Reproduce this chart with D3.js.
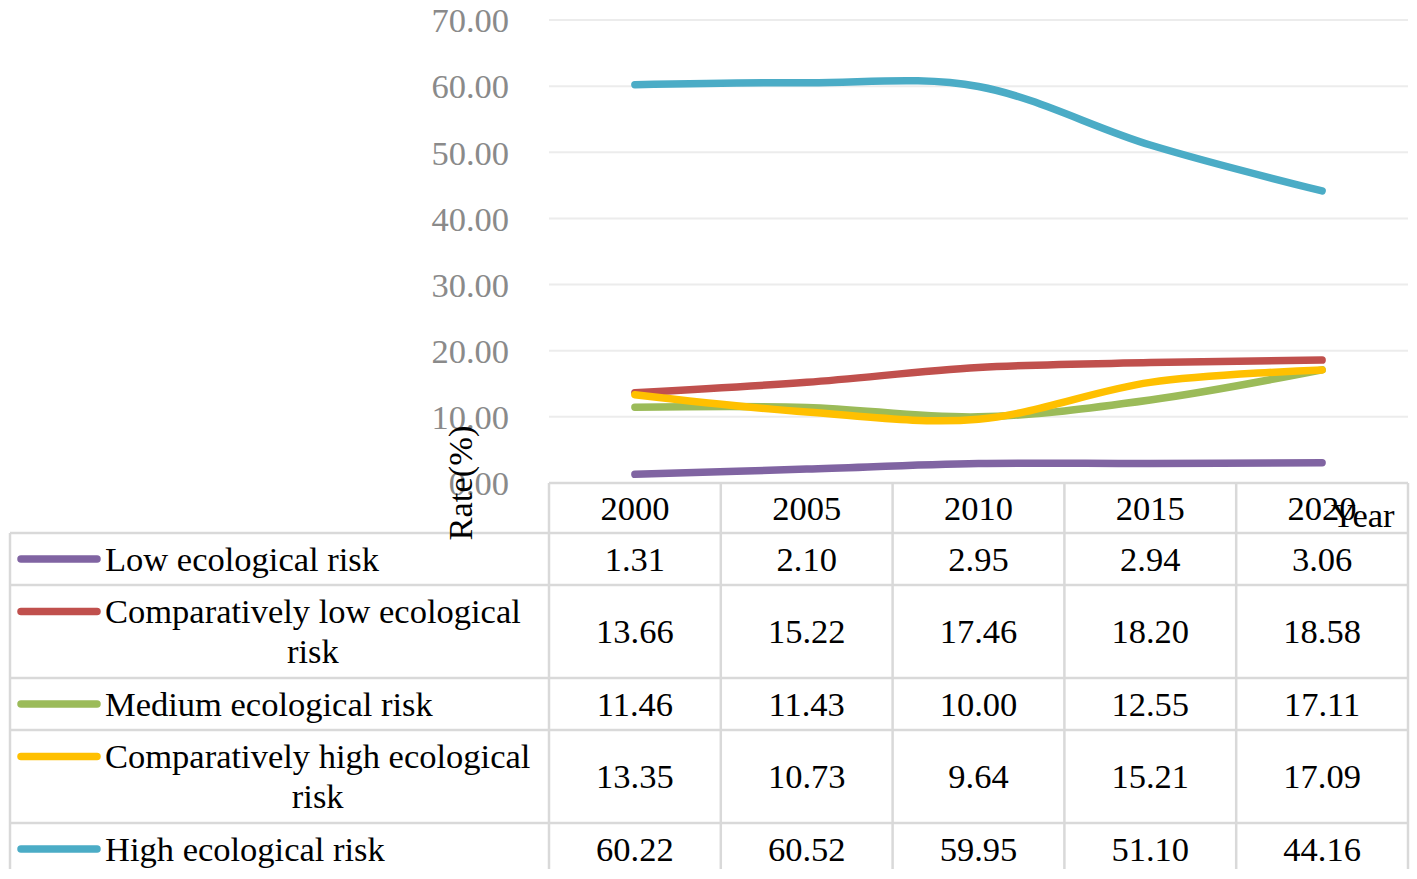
<!DOCTYPE html>
<html>
<head>
<meta charset="utf-8">
<script src="https://cdn.jsdelivr.net/npm/d3@7/dist/d3.min.js"></script>
<style>
  body { margin: 0; background: #fff; }
  text { font-family: "Liberation Serif", "Times New Roman", serif; }
</style>
</head>
<body>
<svg id="chart" width="1417" height="879"></svg>
<script>
// ---- data ----
const years = ["2000", "2005", "2010", "2015", "2020"];
const seriesNames = [
  "Low ecological risk",
  "Comparatively low ecological risk",
  "Medium ecological risk",
  "Comparatively high ecological risk",
  "High ecological risk"
];
const lowRisk = [1.31, 2.10, 2.95, 2.94, 3.06];
const compLowRisk = [13.66, 15.22, 17.46, 18.20, 18.58];
const mediumRisk = [11.46, 11.43, 10.00, 12.55, 17.11];
const compHighRisk = [13.35, 10.73, 9.64, 15.21, 17.09];
const highRisk = [60.22, 60.52, 59.95, 51.10, 44.16];
const seriesValues = [lowRisk, compLowRisk, mediumRisk, compHighRisk, highRisk];
const yTicks = [0, 10, 20, 30, 40, 50, 60, 70];
const colors = ["#8064A2", "#C0504D", "#9BBB59", "#FFC000", "#4BACC6"];

// ---- layout ----
const svg = d3.select("#chart");
const plotLeft = 549, plotRight = 1408, plotTop = 20, plotBottom = 483;
const tableLeft = 10, tableBottom = 869;
const headerBottom = 533;
const rowHeights = [52, 93, 52, 93, 52];
const fs = 34.5;
const base = 11.8;
const gridColor = "#ececec", borderColor = "#d9d9d9";

const x = d3.scaleBand().domain(years).range([plotLeft, plotRight]);
const xc = d => x(d) + x.bandwidth() / 2;
const y = d3.scaleLinear().domain([0, 70]).range([plotBottom, plotTop]);

// gridlines
svg.append("g").selectAll("line").data(yTicks.filter(t => t > 0)).join("line")
  .attr("x1", plotLeft).attr("x2", plotRight)
  .attr("y1", d => y(d)).attr("y2", d => y(d))
  .attr("stroke", gridColor).attr("stroke-width", 2);

// y axis labels
const yAxis = d3.axisLeft(y).tickValues(yTicks).tickFormat(d3.format(".2f")).tickSize(0).tickPadding(0);
const gy = svg.append("g").attr("transform", `translate(509,0)`).call(yAxis);
gy.select(".domain").remove();
gy.selectAll("text").attr("font-size", fs).attr("fill", "#8a8a8a")
  .attr("font-family", "Liberation Serif, Times New Roman, serif").attr("dy", "0.34em");

// lines
const line = d3.line().x((d, i) => xc(years[i])).y(d => y(d)).curve(d3.curveCardinal.tension(0));
svg.append("g").selectAll("path").data(seriesValues).join("path")
  .attr("d", d => line(d))
  .attr("fill", "none")
  .attr("stroke", (d, i) => colors[i])
  .attr("stroke-width", 7.5)
  .attr("stroke-linecap", "round")
  .attr("stroke-linejoin", "round");

// ---- table ----
const rowTops = [];
let acc = headerBottom;
rowHeights.forEach(h => { rowTops.push(acc); acc += h; });

const tg = svg.append("g");
tg.append("line").attr("x1", plotLeft).attr("x2", plotRight).attr("y1", plotBottom).attr("y2", plotBottom)
  .attr("stroke", borderColor).attr("stroke-width", 2.5);
rowTops.forEach(t => {
  tg.append("line").attr("x1", tableLeft).attr("x2", plotRight).attr("y1", t).attr("y2", t)
    .attr("stroke", borderColor).attr("stroke-width", 2.5);
});
tg.append("line").attr("x1", tableLeft).attr("x2", tableLeft).attr("y1", headerBottom).attr("y2", tableBottom)
  .attr("stroke", borderColor).attr("stroke-width", 2.5);
const colEdges = years.map(d => x(d)).concat([plotRight]);
colEdges.forEach(cx => {
  tg.append("line").attr("x1", cx).attr("x2", cx).attr("y1", plotBottom).attr("y2", tableBottom)
    .attr("stroke", borderColor).attr("stroke-width", 2.5);
});

// header years
tg.selectAll("text.year").data(years).join("text").attr("class", "year")
  .attr("x", d => xc(d)).attr("y", (plotBottom + headerBottom) / 2 + base)
  .attr("text-anchor", "middle").attr("font-size", fs).attr("fill", "#000").text(d => d);

// rows
seriesNames.forEach((name, i) => {
  const top = rowTops[i], h = rowHeights[i], cy = top + h / 2;
  seriesValues[i].forEach((v, j) => {
    tg.append("text").attr("x", xc(years[j])).attr("y", cy + base)
      .attr("text-anchor", "middle").attr("font-size", fs).attr("fill", "#000")
      .text(d3.format(".2f")(v));
  });
  const maxW = 436;
  const words = name.split(" ");
  const lines = [];
  let cur = [];
  const meas = tg.append("text").attr("font-size", fs).attr("x", -1000).attr("y", -1000);
  const widthOf = s => { meas.text(s); return meas.node().getComputedTextLength(); };
  words.forEach(w => {
    const test = cur.concat([w]).join(" ");
    if (widthOf(test) > maxW && cur.length) {
      lines.push(cur.join(" "));
      cur = [w];
    } else cur.push(w);
  });
  lines.push(cur.join(" "));
  const widest = d3.max(lines, widthOf);
  meas.remove();
  const lh = 40;
  const firstCenter = cy - (lines.length - 1) * lh / 2;
  const t = tg.append("text").attr("font-size", fs).attr("fill", "#000");
  if (lines.length === 1) {
    t.attr("x", 105).attr("y", firstCenter + base).text(lines[0]);
  } else {
    const blockCenter = 105 + widest / 2;
    lines.forEach((l, k) => {
      t.append("tspan").attr("x", blockCenter).attr("text-anchor", "middle")
        .attr("y", firstCenter + k * lh + base).text(l);
    });
  }
  tg.append("line").attr("x1", 21).attr("x2", 97)
    .attr("y1", firstCenter).attr("y2", firstCenter)
    .attr("stroke", colors[i]).attr("stroke-width", 7.5).attr("stroke-linecap", "round");
});

// axis titles (overlapping as in the original)
svg.append("text").attr("transform", "translate(472,483) rotate(-90)")
  .attr("text-anchor", "middle").attr("font-size", fs).attr("fill", "#000").text("Rate(%)");
svg.append("text").attr("x", 1331).attr("y", 527)
  .attr("font-size", fs).attr("fill", "#000").text("Year");
</script>
</body>
</html>
